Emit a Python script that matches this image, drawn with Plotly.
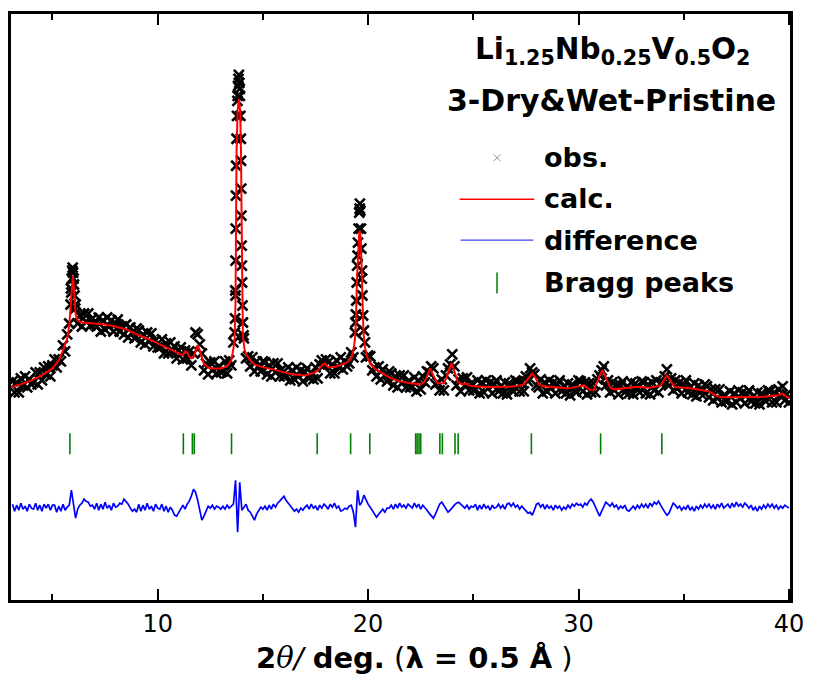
import plotly.graph_objects as go

# ---------------- data ----------------
# observed pattern, step scan starting at 3.1 deg, step 0.1 deg
scan_start = 3.1
scan_step = 0.1
obs_y = [
    219, 208, 218, 208, 222, 215, 224, 213, 221, 216,
    218, 228, 216, 228, 220, 233, 226, 234, 224, 235,
    241, 233, 241, 239, 255, 249, 266, 277, 308, 322,
    296, 277, 285, 274, 287, 279, 287, 275, 282, 276,
    274, 283, 269, 280, 271, 283, 274, 280, 269, 277,
    281, 269, 274, 266, 276, 263, 273, 268, 262, 272,
    270, 258, 266, 256, 268, 259, 267, 254, 260, 253,
    253, 261, 247, 257, 247, 258, 249, 254, 242, 250,
    253, 241, 250, 242, 249, 235, 247, 268, 266, 256,
    247, 230, 237, 226, 238, 230, 239, 227, 234, 228,
    229, 239, 227, 240, 235, 258, 305, 505, 512, 335,
    262, 242, 244, 234, 243, 229, 239, 234, 229, 239,
    238, 226, 235, 224, 237, 228, 237, 224, 231, 224,
    225, 233, 220, 230, 221, 233, 224, 230, 219, 228,
    232, 222, 227, 221, 233, 222, 236, 240, 235, 241,
    238, 227, 236, 227, 240, 233, 243, 231, 239, 234,
    237, 248, 243, 278, 345, 392, 322, 270, 243, 245,
    244, 230, 233, 224, 234, 221, 231, 225, 219, 229,
    227, 215, 224, 213, 225, 217, 225, 213, 219, 213,
    214, 223, 209, 220, 211, 224, 218, 229, 228, 234,
    232, 216, 218, 210, 221, 210, 225, 232, 236, 246,
    234, 215, 221, 209, 222, 215, 223, 210, 217, 210,
    211, 220, 207, 218, 208, 220, 212, 218, 207, 216,
    220, 209, 214, 207, 218, 206, 217, 214, 209, 220,
    219, 209, 218, 209, 224, 219, 232, 228, 226, 215,
    213, 221, 207, 218, 209, 220, 212, 218, 207, 216,
    220, 209, 214, 207, 217, 205, 216, 213, 208, 220,
    219, 209, 218, 206, 217, 208, 217, 208, 221, 225,
    230, 234, 215, 220, 208, 218, 210, 216, 206, 215,
    219, 208, 213, 207, 218, 206, 217, 213, 208, 219,
    218, 207, 216, 206, 218, 210, 220, 208, 217, 218,
    224, 231, 215, 222, 210, 220, 212, 218, 207, 216,
    220, 208, 213, 206, 217, 204, 215, 211, 205, 216,
    214, 203, 211, 200, 211, 202, 211, 198, 205, 199,
    200, 209, 196, 207, 198, 210, 202, 208, 197, 206,
    210, 199, 204, 197, 208, 196, 207, 204, 199, 210,
    209, 198, 208, 198, 211, 204, 214, 200, 206, 198,
]
# extra observed points measured on the steep flanks of the strong peaks
peak_obs_x = [5.86, 5.88, 5.92, 5.94, 5.96, 5.98, 6.02, 6.05, 6.08,
              13.66, 13.68, 13.69, 13.70, 13.71, 13.72, 13.73, 13.75, 13.77, 13.79,
              13.82, 13.84, 13.86, 13.88, 13.91, 13.93, 13.95, 13.96, 13.97, 13.98,
              13.99, 14.01, 14.03, 14.05, 14.08,
              19.38, 19.42, 19.44, 19.46, 19.48, 19.52, 19.55, 19.58, 19.61, 19.63,
              19.66, 19.68, 19.71, 19.73, 19.76, 19.85]
peak_obs_y = [296, 312, 322, 330, 333, 328, 316, 305, 292,
              268, 282, 310, 340, 372, 405, 435, 462, 485, 500,
              515, 522, 526, 518, 505, 485, 462, 440, 412, 385,
              355, 318, 295, 278, 265,
              268, 286, 300, 318, 335, 358, 372, 388, 397, 390,
              372, 352, 330, 305, 285, 258]

# calculated profile
calc_x = [3.0, 3.5, 4.0, 4.5, 5.0, 5.3, 5.5, 5.7, 5.8, 5.85, 5.9, 5.94, 5.97, 6.0, 6.05,
          6.1, 6.2, 6.4, 7.0, 7.5, 8.0, 8.5, 9.0, 9.5, 10.0, 10.5, 11.0, 11.2, 11.3,
          11.4, 11.5, 11.6, 11.7, 11.8, 11.9, 12.0, 12.1, 12.2, 12.5, 13.0, 13.3, 13.5,
          13.6, 13.66, 13.70, 13.72, 13.75, 13.80, 13.86, 13.92, 13.96, 13.99, 14.01,
          14.05, 14.12, 14.2, 14.4, 14.6, 15.0, 15.5, 16.0, 16.5, 17.0, 17.5, 17.7,
          17.85, 17.95, 18.1, 18.5, 19.0, 19.2, 19.3, 19.38, 19.43, 19.47, 19.52, 19.57,
          19.61, 19.65, 19.69, 19.73, 19.78, 19.85, 19.95, 20.1, 20.3, 20.6, 21.0, 21.5,
          22.0, 22.5, 22.7, 22.8, 22.95, 23.1, 23.3, 23.6, 23.75, 23.85, 23.97, 24.1,
          24.25, 24.45, 24.64, 24.8, 25.0, 26.0, 27.0, 27.4, 27.6, 27.8, 27.95, 28.1,
          28.3, 29.0, 29.5, 30.0, 30.27, 30.5, 30.72, 30.9, 31.05, 31.15, 31.3, 31.5,
          31.7, 32.2, 32.8, 33.4, 33.9, 34.05, 34.2, 34.35, 34.55, 34.7, 35.3, 35.9,
          36.2, 36.5, 36.8, 37.5, 38.3, 38.8, 39.5, 39.7, 39.85, 40.05]
calc_y = [213, 216, 220, 225, 232, 240, 250, 262, 275, 290, 305, 318, 325, 318, 300,
          286, 280, 278, 277, 276, 274, 271, 266, 262, 257, 252, 247, 245, 249,
          248, 244, 242, 243, 250, 255, 250, 242, 236, 232, 232, 234, 240,
          252, 262, 300, 380, 450, 490, 502, 490, 450, 380, 300,
          265, 252, 246, 240, 236, 233, 231, 228, 226, 225, 228, 232,
          236, 237, 233, 234, 238, 242, 250, 262, 285, 320, 350, 365,
          370, 362, 335, 295, 268, 253, 244, 237, 232, 228, 223, 219,
          217, 216, 219, 224, 232, 225, 217, 217, 224, 231, 237, 229,
          219, 216, 217, 215, 214, 213, 214, 216, 221, 227, 223, 216,
          214, 213, 212, 214, 215, 211, 210, 219, 227, 230, 222, 213,
          211, 212, 213.5, 212.5, 215, 220, 225, 220, 214, 213, 212, 210,
          209, 205, 203, 203, 203, 203.5, 205, 207, 204, 202]

# difference curve, same step scan as obs
diff_y = [
    96, 89, 95, 90, 97, 91, 94, 89, 96, 92,
    91, 97, 90, 95, 89, 96, 92, 96, 90, 95,
    95, 88, 94, 89, 96, 90, 93, 95, 110, 97,
    82, 91, 95, 97, 101, 99, 98, 94, 95, 91,
    97, 90, 96, 91, 98, 92, 95, 90, 97, 93,
    94, 97, 96, 101, 99, 96, 92, 89, 91, 88,
    96, 89, 95, 90, 97, 91, 94, 89, 96, 92,
    91, 96, 89, 94, 88, 93, 90, 85, 84, 88,
    92, 95, 91, 96, 99, 104, 111, 108, 100, 90,
    80, 84, 90, 94, 92, 95, 91, 94, 93, 91,
    94, 91, 95, 92, 94, 96, 120, 68, 118, 90,
    93, 96, 90, 88, 84, 80, 86, 90, 93, 91,
    94, 90, 95, 91, 96, 93, 97, 99, 101, 104,
    100, 97, 94, 92, 89, 91, 88, 92, 90, 93,
    95, 91, 96, 92, 94, 90, 95, 92, 96, 94,
    91, 96, 93, 97, 92, 94, 89, 90, 92, 91,
    94, 95, 88, 73, 110, 95, 98, 105, 100, 96,
    93, 90, 87, 83, 86, 89, 91, 88, 92, 92,
    95, 91, 96, 92, 97, 93, 95, 92, 96, 94,
    92, 97, 93, 96, 91, 95, 93, 90, 87, 84,
    82, 86, 92, 96, 98, 95, 91, 88, 90, 93,
    95, 97, 98, 96, 94, 92, 95, 91, 94, 93,
    96, 90, 95, 91, 96, 92, 94, 90, 95, 92,
    93, 96, 92, 95, 91, 96, 97, 94, 97, 93,
    95, 91, 94, 92, 90, 87, 88, 85, 90, 96,
    97, 93, 96, 91, 95, 92, 94, 90, 95, 92,
    94, 90, 93, 91, 95, 92, 96, 94, 97, 95,
    96, 93, 97, 95, 99, 101, 98, 93, 88, 84,
    89, 93, 98, 96, 94, 97, 93, 95, 91, 94,
    92, 95, 90, 89, 92, 94, 91, 95, 92, 96,
    93, 96, 92, 97, 94, 98, 96, 99, 95, 91,
    88, 85, 87, 92, 97, 95, 92, 94, 90, 93,
    91, 95, 90, 93, 89, 94, 91, 95, 92, 96,
    93, 96, 92, 95, 91, 96, 93, 97, 92, 94,
    96, 92, 97, 93, 98, 94, 96, 93, 97, 95,
    92, 95, 90, 93, 89, 94, 91, 95, 92, 96,
    93, 96, 92, 95, 91, 94, 92, 95, 93, 92,
]

bragg_x = [5.83, 11.22, 11.65, 11.74, 13.51, 17.58, 19.17, 20.08, 22.26, 22.33,
           22.42, 22.50, 23.41, 23.53, 24.13, 24.28, 27.76, 31.05, 33.96]
bragg_level = 156.5

x_tickvals = [10, 20, 30, 40]
legend_labels = ["obs.", "calc.", "difference", "Bragg peaks"]
title_formula = "Li<sub>1.25</sub>Nb<sub>0.25</sub>V<sub>0.5</sub>O<sub>2</sub>"
title_sample = "3-Dry&amp;Wet-Pristine"

# ---------------- figure ----------------
scan_x = [round(scan_start + i * scan_step, 2) for i in range(len(obs_y))]
obs_x_all = scan_x + peak_obs_x
obs_y_all = obs_y + peak_obs_y

FONT = "DejaVu Sans"
fig = go.Figure()
fig.add_trace(go.Scatter(
    x=obs_x_all, y=obs_y_all, mode="markers", name="obs.", showlegend=False,
    marker=dict(symbol="x-thin", size=10, color="black",
                line=dict(color="black", width=2.6))))
fig.add_trace(go.Scatter(
    x=calc_x, y=calc_y, mode="lines", name="calc.", showlegend=False,
    line=dict(color="#ff0000", width=2)))
fig.add_trace(go.Scatter(
    x=scan_x, y=diff_y, mode="lines", name="difference", showlegend=False,
    line=dict(color="#0000ff", width=1.7)))
fig.add_trace(go.Scatter(
    x=bragg_x, y=[bragg_level] * len(bragg_x), mode="markers", name="Bragg peaks",
    showlegend=False,
    marker=dict(symbol="line-ns", size=15, color="#008000",
                line=dict(color="#008000", width=1.6))))

# plot-area pixel box, for placing text/legend in paper coordinates
PX_L, PX_R, PX_T, PX_B = 11, 794, 13, 600


def xp(px):
    return (px - PX_L) / (PX_R - PX_L)


def yp(py):
    return (PX_B - py) / (PX_B - PX_T)


annotations = [
    dict(text="<b>%s</b>" % title_formula, x=xp(616), y=yp(50), xref="paper",
         yref="paper", showarrow=False, xanchor="center", yanchor="middle",
         font=dict(family=FONT, size=29.5, color="black")),
    dict(text="<b>%s</b>" % title_sample, x=xp(615), y=yp(100), xref="paper",
         yref="paper", showarrow=False, xanchor="center", yanchor="middle",
         font=dict(family=FONT, size=30, color="black")),
]
legend_rows = [157, 198, 240, 282]
for lab, py in zip(legend_labels, legend_rows):
    annotations.append(dict(text="<b>%s</b>" % lab, x=xp(545), y=yp(py), xref="paper",
                            yref="paper", showarrow=False, xanchor="left",
                            yanchor="middle",
                            font=dict(family=FONT, size=27, color="black")))

shapes = [
    # obs. symbol (small grey cross)
    dict(type="line", xref="paper", yref="paper", x0=xp(496), x1=xp(503),
         y0=yp(153.5), y1=yp(160.5), line=dict(color="#909090", width=1)),
    dict(type="line", xref="paper", yref="paper", x0=xp(496), x1=xp(503),
         y0=yp(160.5), y1=yp(153.5), line=dict(color="#909090", width=1)),
    # calc. line
    dict(type="line", xref="paper", yref="paper", x0=xp(462), x1=xp(537),
         y0=yp(198.5), y1=yp(198.5), line=dict(color="#ff0000", width=1.5)),
    # difference line
    dict(type="line", xref="paper", yref="paper", x0=xp(463), x1=xp(536),
         y0=yp(239.5), y1=yp(239.5), line=dict(color="#4040ff", width=1.3)),
    # Bragg tick
    dict(type="line", xref="paper", yref="paper", x0=xp(499.5), x1=xp(499.5),
         y0=yp(272), y1=yp(293), line=dict(color="#008000", width=1.5)),
]

xtitle = ('&nbsp;&nbsp;&nbsp;<b>2</b><span style="font-family:DejaVu Serif"><i>θ</i></span>'
          '<i>/</i> <b>deg.</b> (<b>λ = 0.5 Å</b> )')

fig.update_layout(
    width=815, height=685,
    margin=dict(l=PX_L, r=815 - PX_R, t=PX_T, b=685 - PX_B),
    paper_bgcolor="white", plot_bgcolor="white",
    showlegend=False,
    annotations=annotations, shapes=shapes,
    xaxis=dict(range=[3.03, 40.05], tickvals=x_tickvals, ticks="inside", ticklen=11,
               tickwidth=1.5, tickcolor="black", showline=True, linewidth=2.5,
               linecolor="black", mirror="allticks", showgrid=False, zeroline=False,
               tickfont=dict(family=FONT, size=24, color="black"),
               minor=dict(dtick=5, tick0=0, ticks="inside", ticklen=6, tickwidth=1.5,
                          tickcolor="black", showgrid=False),
               title=dict(text=xtitle, standoff=12,
                          font=dict(family=FONT, size=29, color="black"))),
    yaxis=dict(range=[0, 587], showline=True, linewidth=2.5, linecolor="black",
               mirror=True, ticks="", showticklabels=False, showgrid=False,
               zeroline=False),
)

fig.write_html("out.html", config={"displayModeBar": False},
               post_script="document.body.style.margin='0';document.body.style.overflow='hidden';")
